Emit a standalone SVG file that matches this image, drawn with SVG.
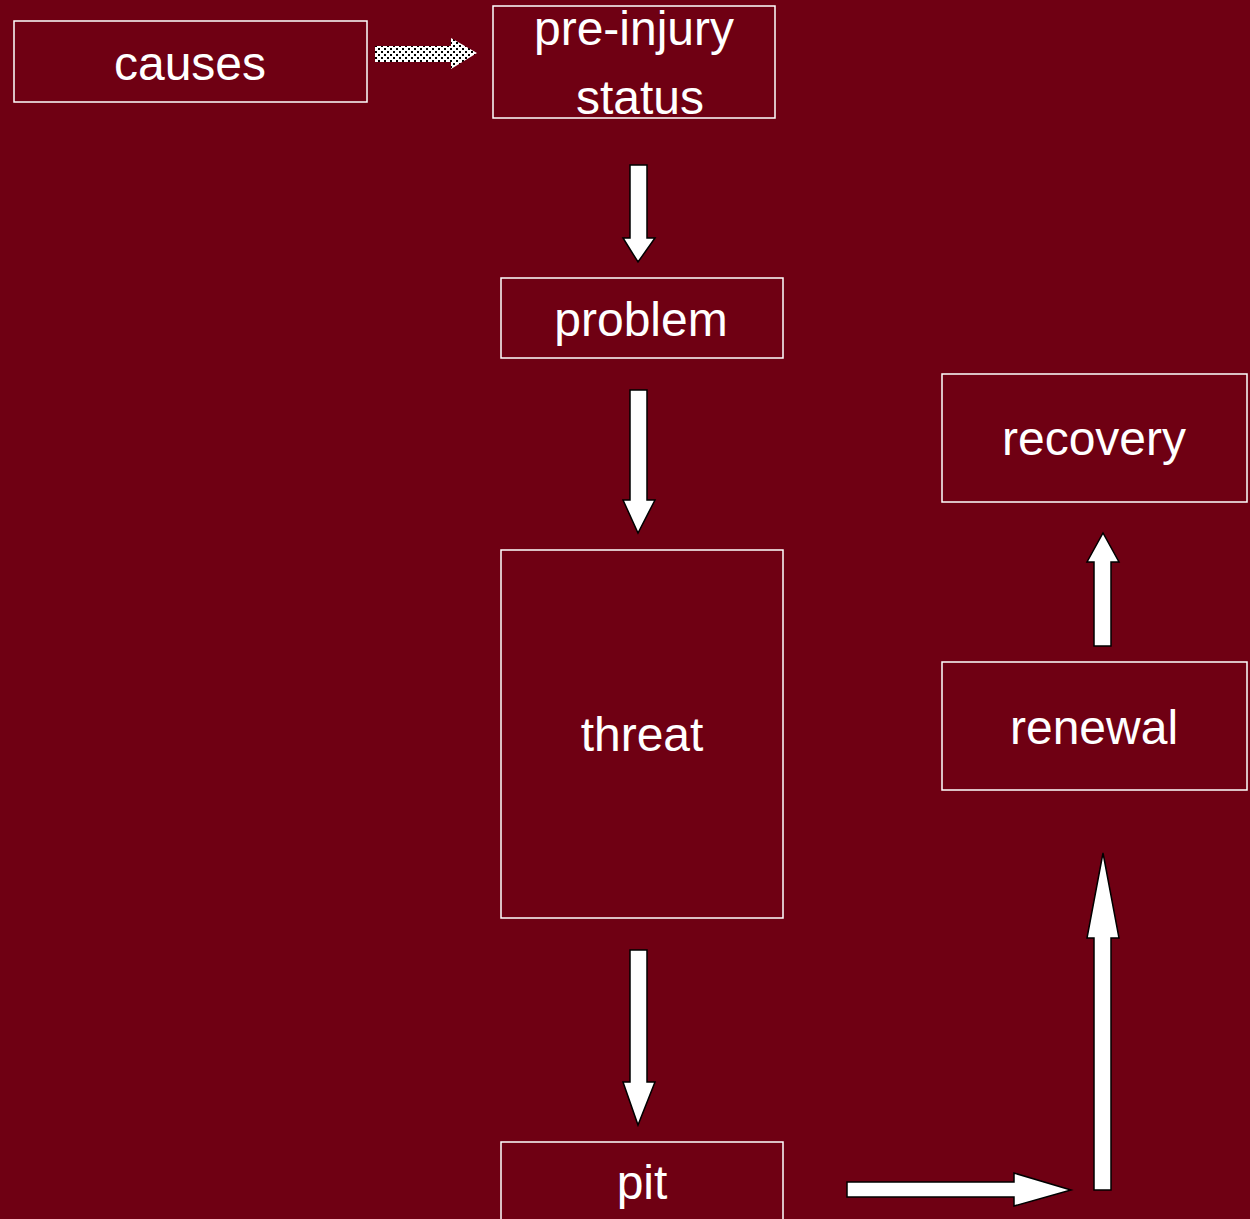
<svg xmlns="http://www.w3.org/2000/svg" width="1250" height="1219" viewBox="0 0 1250 1219">
<defs>
<pattern id="dots" width="6" height="6" patternUnits="userSpaceOnUse">
<rect width="6" height="6" fill="#fff"/>
<rect x="0" y="0" width="2" height="2" fill="#000"/>
<rect x="3" y="3" width="2" height="2" fill="#000"/>
</pattern>
<style>
.box{fill:none;stroke:#fff;stroke-width:1.5}
.lbl{font-family:"Liberation Sans",Arial,sans-serif;font-size:48px;fill:#fff;text-anchor:middle}
.arr{fill:#fff;stroke:#000;stroke-width:1.5;stroke-linejoin:miter}
</style>
</defs>
<rect width="1250" height="1219" fill="#6F0013"/>
<g id="connectors">
<polygon points="375,46 451,46 451,38 477,53 451,69 451,62 375,62" fill="url(#dots)" stroke="none"/>
<polygon class="arr" points="630,165 647,165 647,238 655,238 638,262 623,238 630,238"/>
<polygon class="arr" points="630,390 647,390 647,500 655,500 638,533 623,500 630,500"/>
<polygon class="arr" points="630,950 647,950 647,1082 655,1082 638,1125 623,1082 630,1082"/>
<polygon class="arr" points="847,1182 1014,1182 1014,1173 1071,1190 1014,1206 1014,1197 847,1197"/>
<polygon class="arr" points="1094,1190 1094,938 1087,938 1103,853 1119,938 1111,938 1111,1190"/>
<polygon class="arr" points="1094,646 1094,562 1087,562 1103,533 1119,562 1111,562 1111,646"/>
</g>
<g id="causes"><rect class="box" x="14" y="21" width="353" height="81"/><text class="lbl" x="190" y="80">causes</text></g>
<g id="pre-injury-status"><rect class="box" x="493" y="6" width="282" height="112"/><text class="lbl" x="634" y="45">pre-injury</text><text class="lbl" x="640" y="114">status</text></g>
<g id="problem"><rect class="box" x="501" y="278" width="282" height="80"/><text class="lbl" x="641" y="336">problem</text></g>
<g id="recovery"><rect class="box" x="942" y="374" width="305" height="128"/><text class="lbl" x="1094" y="455">recovery</text></g>
<g id="threat"><rect class="box" x="501" y="550" width="282" height="368"/><text class="lbl" x="642" y="751">threat</text></g>
<g id="renewal"><rect class="box" x="942" y="662" width="305" height="128"/><text class="lbl" x="1094" y="744">renewal</text></g>
<g id="pit"><rect class="box" x="501" y="1142" width="282" height="90"/><text class="lbl" x="642" y="1199">pit</text></g>
</svg>
